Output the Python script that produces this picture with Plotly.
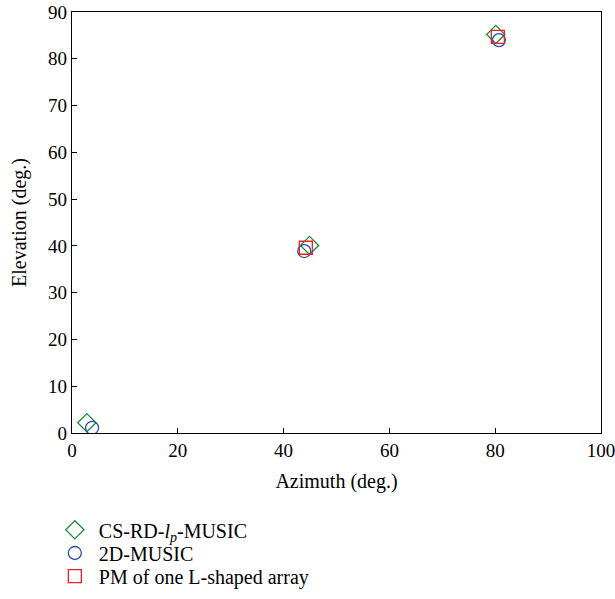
import plotly.graph_objects as go

# Estimated (azimuth, elevation) pairs for each method, in degrees
cs_rd_az = [2.8, 44.9, 80.1]
cs_rd_el = [2.2, 40.1, 85.2]
music_az = [3.8, 43.9, 80.7]
music_el = [1.1, 38.9, 84.0]
pm_az = [44.2, 80.5]
pm_el = [39.6, 84.7]

x_ticks = [0, 20, 40, 60, 80, 100]
y_ticks = [0, 10, 20, 30, 40, 50, 60, 70, 80, 90]

FONT = "Liberation Serif, DejaVu Serif, serif"

fig = go.Figure()
fig.add_trace(go.Scatter(
    x=cs_rd_az, y=cs_rd_el, mode="markers",
    name="CS-RD-<i>l</i><sub><i>p</i></sub>-MUSIC", legend="legend",
    marker=dict(symbol="diamond-open", size=14, color="#1e8c3a", line=dict(width=1.3)),
))
fig.add_trace(go.Scatter(
    x=music_az, y=music_el, mode="markers", name="2D-MUSIC", legend="legend2",
    marker=dict(symbol="circle-open", size=13, color="#2b4fb3", line=dict(width=1.3)),
))
fig.add_trace(go.Scatter(
    x=pm_az, y=pm_el, mode="markers", name="PM of one L-shaped array", legend="legend3",
    marker=dict(symbol="square-open", size=13, color="#f02020", line=dict(width=1.3)),
))

axis_common = dict(
    showgrid=False, zeroline=False, showline=True, linecolor="black", linewidth=1.2,
    mirror=True, ticks="inside", ticklen=5, tickcolor="black", automargin=False,
    tickfont=dict(family=FONT, size=19, color="black"),
)
fig.update_xaxes(range=[0, 100], tickvals=x_ticks, ticklabeloverflow="allow",
                 title=dict(text="Azimuth (deg.)", font=dict(family=FONT, size=20, color="black"), standoff=14),
                 **axis_common)
fig.update_yaxes(range=[0, 90], tickvals=y_ticks,
                 title=dict(text="Elevation (deg.)", font=dict(family=FONT, size=20, color="black"), standoff=16),
                 **axis_common)

# one legend per row so the rows sit at fixed positions under the axes
def row_legend(ypos):
    return dict(x=-0.04, y=ypos, xanchor="left", yanchor="middle",
                bgcolor="rgba(0,0,0,0)", font=dict(family=FONT, size=20, color="black"),
                itemwidth=38)

fig.update_layout(
    width=615, height=599,
    margin=dict(l=72, r=14, t=12, b=166, autoexpand=False),
    plot_bgcolor="white", paper_bgcolor="white",
    font=dict(family=FONT, size=20, color="black"),
    showlegend=True,
    legend=row_legend(-0.230),
    legend2=row_legend(-0.285),
    legend3=row_legend(-0.340),
)

fig.write_html("out.html")
